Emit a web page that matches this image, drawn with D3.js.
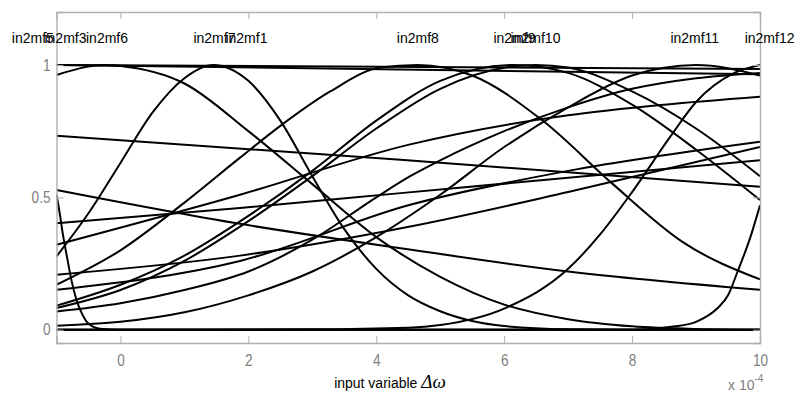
<!DOCTYPE html>
<html>
<head>
<meta charset="utf-8">
<script src="https://cdn.jsdelivr.net/npm/d3@7/dist/d3.min.js"></script>
<style>
  body { margin: 0; background: #fff; }
  svg text { font-family: "Liberation Sans", Arial, sans-serif; }
</style>
</head>
<body>
<div id="chart"></div>
<script>
// axis ticks
const xTicks = [0, 2, 4, 6, 8, 10];
const yTicks = [0, 0.5, 1];

// membership function labels and where their peaks sit (x in 1e-4 units)
const mfNames = ["in2mf5", "in2mf3", "in2mf6", "in2mf7", "in2mf1", "in2mf8", "in2mf9", "in2mf10", "in2mf11", "in2mf12"];
const mfPeaks = [-1.37, -0.86, -0.21, 1.47, 1.97, 4.65, 6.16, 6.49, 8.98, 10.15];

// curves as [x, degree]
const mf5 = [[-1, 0.51], [-0.95, 0.44], [-0.9, 0.36], [-0.84, 0.28], [-0.76, 0.18], [-0.68, 0.107], [-0.6, 0.06], [-0.53, 0.031], [-0.43, 0.012], [-0.32, 0.004], [0, 0], [10, 0]];
const mf6 = [[-1, 0.962], [-0.25, 1], [0, 0.996], [1, 0.93], [2, 0.75], [3, 0.55], [4, 0.35], [5, 0.2], [6, 0.095], [7, 0.04], [8, 0.013], [9, 0.003], [10, 0]];
const mf7 = [[-1, 0.277], [-0.5, 0.44], [0, 0.63], [0.5, 0.82], [1, 0.95], [1.45, 1], [2, 0.94], [2.5, 0.79], [3, 0.58], [3.5, 0.38], [4, 0.23], [4.5, 0.13], [5, 0.07], [5.5, 0.033], [6, 0.014], [7, 0.002], [8, 0], [10, 0]];
const mf8 = [[-1, 0.17], [0, 0.3], [1, 0.48], [1.87, 0.65], [2.5, 0.77], [3.28, 0.9], [4.06, 0.99], [4.65, 1], [5.5, 0.96], [6.6, 0.79], [7.7, 0.55], [8.8, 0.33], [10, 0.19]];
const mf9 = [[-1, 0.091], [0, 0.17], [1, 0.28], [2, 0.43], [3, 0.6], [4, 0.79], [5, 0.94], [6.16, 1], [7, 0.97], [8, 0.85], [9, 0.68], [10, 0.49]];
const mf10 = [[-1, 0.082], [0, 0.15], [1, 0.26], [2, 0.41], [3, 0.58], [4, 0.76], [5, 0.91], [6.49, 1], [7, 0.99], [8, 0.9], [9, 0.76], [10, 0.58]];
const mf11 = [[-1, 0.015], [0, 0.03], [1, 0.066], [2, 0.13], [3, 0.22], [4, 0.35], [5, 0.51], [6, 0.69], [7, 0.84], [8, 0.96], [9, 1], [10, 0.96]];
const mf12 = [[-1, 0], [3, 0.002], [4.5, 0.008], [5, 0.018], [6, 0.08], [7, 0.23], [7.5, 0.36], [8, 0.52], [8.6, 0.73], [9, 0.86], [9.6, 0.97], [10, 1]];
const edgeRight = [[-1, 0], [8, 0], [8.65, 0.012], [9, 0.03], [9.33, 0.08], [9.5, 0.13], [9.65, 0.22], [9.85, 0.35], [10, 0.47]];
const lineC = [[-1, 0.733], [4.38, 0.642], [10, 0.54]];
const lineD = [[-1, 0.528], [1.87, 0.4], [4.38, 0.308], [7, 0.22], [10, 0.151]];
const lineF = [[-1, 0.402], [1.87, 0.46], [4.38, 0.516], [10, 0.64]];
const lineG = [[-1, 0.321], [1.87, 0.51], [4.53, 0.7], [7, 0.81], [8.5, 0.85], [10, 0.88]];
const lineH = [[-1, 0.208], [1.87, 0.28], [4.53, 0.39], [7, 0.52], [10, 0.69]];
const lineI = [[-1, 0.151], [1.87, 0.26], [4.53, 0.472], [7, 0.6], [10, 0.71]];
const lineJ = [[-1, 0.069], [0, 0.1], [1, 0.15], [2, 0.22], [3, 0.34], [4, 0.5], [4.53, 0.58], [5, 0.64], [6, 0.75], [7, 0.84], [8, 0.91], [9, 0.95], [10, 0.97]];
const top1 = [[-1, 1], [10, 0.985]];
const top2 = [[-1, 1], [10, 0.965]];
const bottom1 = [[-1, 0], [10, 0]];

const curves = [mf5, mf6, mf7, mf8, mf9, mf10, mf11, mf12, edgeRight,
  lineC, lineD, lineF, lineG, lineH, lineI, lineJ, top1, top2, bottom1];

const W = 796, H = 396;
const margin = { top: 12, right: 36, bottom: 53, left: 56.5 };
const width = W - margin.left - margin.right;
const height = H - margin.top - margin.bottom;

const svg = d3.select('#chart').append('svg')
  .attr('width', W)
  .attr('height', H)
  .style('background', '#fff');

const g = svg.append('g').attr('transform', `translate(${margin.left},${margin.top})`);

const x = d3.scaleLinear().domain([-1, 10]).range([0, width]);
const y = d3.scaleLinear().domain([-0.05, 1.2]).range([height, 0]);

const axisColor = '#b0b0b0';
const labelColor = '#808080';

// clip so curves stay in the box
g.append('clipPath').attr('id', 'clip')
  .append('rect').attr('width', width).attr('height', height);

const line = d3.line()
  .x(d => x(d[0]))
  .y(d => y(d[1]))
  .curve(d3.curveMonotoneX);

g.append('g').attr('clip-path', 'url(#clip)')
  .selectAll('path')
  .data(curves)
  .join('path')
  .attr('d', line)
  .attr('fill', 'none')
  .attr('stroke', '#000')
  .attr('stroke-width', 2);

// box axes, ticks point inward like matlab
const xb = g.append('g').attr('transform', `translate(0,${height})`)
  .call(d3.axisBottom(x).tickValues(xTicks).tickSize(-7).tickPadding(12).tickFormat(d3.format('d')));
const xt = g.append('g')
  .call(d3.axisTop(x).tickValues(xTicks).tickSize(-7).tickFormat(''));
const yl = g.append('g')
  .call(d3.axisLeft(y).tickValues(yTicks).tickSize(-7).tickPadding(6).tickFormat(d => d));
const yr = g.append('g').attr('transform', `translate(${width},0)`)
  .call(d3.axisRight(y).tickValues(yTicks).tickSize(-7).tickFormat(''));

[xb, xt, yl, yr].forEach(a => {
  a.selectAll('.domain').attr('stroke', axisColor).attr('stroke-width', 1.4);
  a.selectAll('.tick line').attr('stroke', axisColor);
});

// tick labels: tall, narrow grey digits
xb.selectAll('.tick text')
  .attr('fill', labelColor)
  .style('font-size', '16px')
  .attr('transform', 'scale(0.85,1)');
yl.selectAll('.tick text')
  .attr('fill', labelColor)
  .style('font-size', '16px')
  .attr('x', 0)
  .attr('transform', 'translate(-6,0) scale(0.85,1)');

// mf labels above the curves
g.append('g').selectAll('text')
  .data(mfNames)
  .join('text')
  .attr('x', (d, i) => x(mfPeaks[i]))
  .attr('y', y(1.1))
  .attr('dy', '0.35em')
  .attr('text-anchor', 'middle')
  .style('font-size', '14px')
  .attr('fill', '#000')
  .text(d => d);

// x axis title
const title = svg.append('text')
  .attr('x', 390)
  .attr('y', 388)
  .attr('text-anchor', 'middle')
  .attr('fill', '#000')
  .style('font-size', '14px');
title.append('tspan').text('input variable ');
title.append('tspan')
  .style('font-family', '"Liberation Serif", "Times New Roman", serif')
  .style('font-style', 'italic')
  .style('font-size', '19px')
  .text('Δω');

// exponent note
const expo = svg.append('text')
  .attr('x', 728)
  .attr('y', 390)
  .attr('fill', labelColor)
  .style('font-size', '14px');
expo.append('tspan').text('x 10');
expo.append('tspan').attr('dy', -8).style('font-size', '10px').text('-4');
</script>
</body>
</html>
